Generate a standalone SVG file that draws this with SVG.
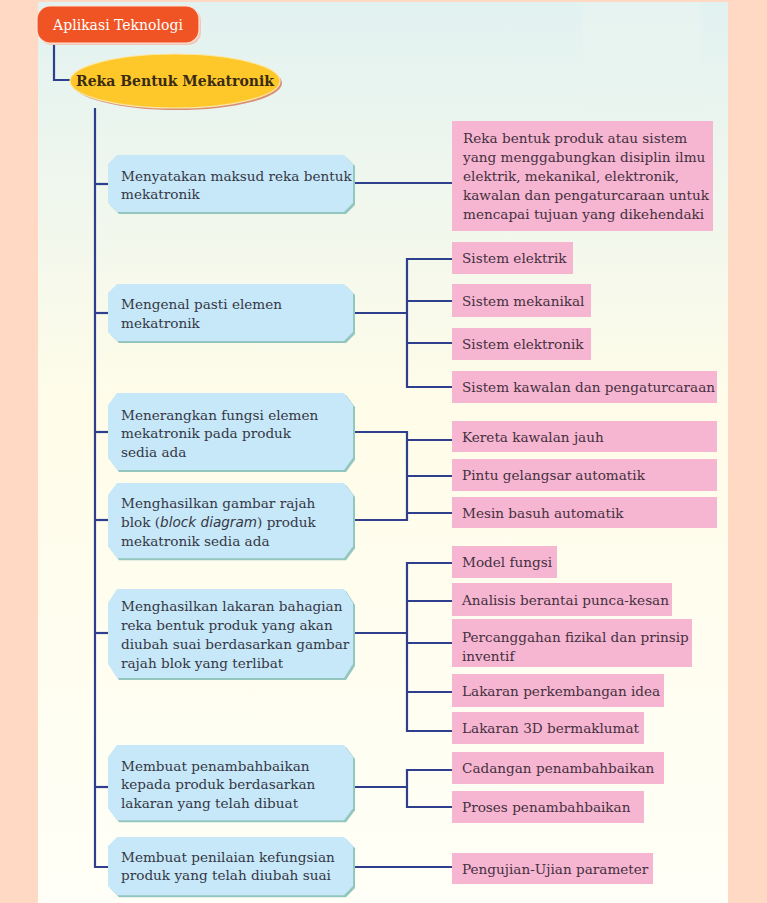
<svg xmlns="http://www.w3.org/2000/svg" width="767" height="903" viewBox="0 0 767 903">
<defs>
<linearGradient id="bg" x1="0" y1="0" x2="0" y2="1">
<stop offset="0" stop-color="#E2F2F1"/>
<stop offset="0.45" stop-color="#FFFCE9"/>
<stop offset="1" stop-color="#FFFFF7"/>
</linearGradient>
<polygon id="oct" points="9,0 236,0 245,9 245,48 236,57 9,57 0,48 0,9"/>
</defs>
<style>
.ln{fill:none;stroke:#2E3F8E;stroke-width:2.2}
.bt{font-family:"DejaVu Serif","Liberation Serif",serif;font-size:13.6px;fill:#353745}
.pt{font-family:"DejaVu Serif","Liberation Serif",serif;font-size:13.6px;fill:#45303E}
.hd{font-family:"DejaVu Serif","Liberation Serif",serif;font-size:14px}
.pk{fill:#F6B6D2}
.bx{fill:#C7E8F8}
.sh{fill:#93C6BF}
</style>
<rect x="0" y="0" width="767" height="903" fill="#FFD9C4"/>
<rect x="38" y="2" width="690" height="901" fill="url(#bg)"/>
<rect x="583" y="2" width="117" height="108" fill="#E8F3EF" opacity="0.7"/>

<g id="connectors">
<polyline class="ln" points="54,43 54,80 72,80"/>
<polyline class="ln" points="95,108 95,867 110,867"/>
<line class="ln" x1="95" y1="184" x2="110" y2="184"/>
<line class="ln" x1="95" y1="313" x2="110" y2="313"/>
<line class="ln" x1="95" y1="432" x2="110" y2="432"/>
<line class="ln" x1="95" y1="520" x2="110" y2="520"/>
<line class="ln" x1="95" y1="633" x2="110" y2="633"/>
<line class="ln" x1="95" y1="787" x2="110" y2="787"/>
<line class="ln" x1="353" y1="183" x2="452" y2="183"/>
<line class="ln" x1="353" y1="313" x2="407" y2="313"/>
<polyline class="ln" points="452,259 407,259 407,387 452,387"/>
<line class="ln" x1="407" y1="301" x2="452" y2="301"/>
<line class="ln" x1="407" y1="343" x2="452" y2="343"/>
<polyline class="ln" points="353,432 407,432 407,520 353,520"/>
<line class="ln" x1="407" y1="440" x2="452" y2="440"/>
<line class="ln" x1="407" y1="476" x2="452" y2="476"/>
<line class="ln" x1="407" y1="513" x2="452" y2="513"/>
<line class="ln" x1="353" y1="633" x2="407" y2="633"/>
<polyline class="ln" points="452,563 407,563 407,731 452,731"/>
<line class="ln" x1="407" y1="601" x2="452" y2="601"/>
<line class="ln" x1="407" y1="643" x2="452" y2="643"/>
<line class="ln" x1="407" y1="692" x2="452" y2="692"/>
<line class="ln" x1="353" y1="787" x2="407" y2="787"/>
<polyline class="ln" points="452,770 407,770 407,807 452,807"/>
<line class="ln" x1="353" y1="867" x2="452" y2="867"/>
</g>

<g id="n-aplikasi">
<rect x="39" y="8" width="162" height="37" rx="13" fill="#F2C9B8"/>
<rect x="37" y="6" width="162" height="37" rx="13" fill="#F05424" stroke="#FBE3D6" stroke-width="1.2"/>
<text class="hd" x="118" y="30" text-anchor="middle" fill="#FFFFFF">Aplikasi Teknologi</text>
</g>
<g id="n-reka">
<ellipse cx="177" cy="83" rx="105" ry="27" fill="#D98F74"/>
<ellipse cx="175" cy="81" rx="105" ry="27" fill="#FFC82A" stroke="#FBE7A8" stroke-width="1.2"/>
<text class="hd" x="175" y="86" text-anchor="middle" font-weight="bold" fill="#3A2C12">Reka Bentuk Mekatronik</text>
</g>

<g id="b1"><use href="#oct" class="sh" transform="translate(110,157)"/><use href="#oct" class="bx" transform="translate(108,155)"/>
<text class="bt" x="121" y="181">Menyatakan maksud reka bentuk</text><text class="bt" x="121" y="199">mekatronik</text></g>
<g id="b2"><use href="#oct" class="sh" transform="translate(110,286)"/><use href="#oct" class="bx" transform="translate(108,284)"/>
<text class="bt" x="121" y="309">Mengenal pasti elemen</text><text class="bt" x="121" y="328">mekatronik</text></g>
<g id="b3"><use href="#oct" class="sh" transform="translate(110,395) scale(1,1.35)"/><use href="#oct" class="bx" transform="translate(108,393) scale(1,1.35)"/>
<text class="bt" x="121" y="420">Menerangkan fungsi elemen</text><text class="bt" x="121" y="438">mekatronik pada produk</text><text class="bt" x="121" y="457">sedia ada</text></g>
<g id="b4"><use href="#oct" class="sh" transform="translate(110,485) scale(1,1.32)"/><use href="#oct" class="bx" transform="translate(108,483) scale(1,1.32)"/>
<text class="bt" x="121" y="508">Menghasilkan gambar rajah</text><text class="bt" x="121" y="527">blok (<tspan font-style="italic" font-family="DejaVu Sans,sans-serif">block diagram</tspan>) produk</text><text class="bt" x="121" y="546">mekatronik sedia ada</text></g>
<g id="b5"><use href="#oct" class="sh" transform="translate(110,591) scale(1,1.56)"/><use href="#oct" class="bx" transform="translate(108,589) scale(1,1.56)"/>
<text class="bt" x="121" y="611">Menghasilkan lakaran bahagian</text><text class="bt" x="121" y="630">reka bentuk produk yang akan</text><text class="bt" x="121" y="649">diubah suai berdasarkan gambar</text><text class="bt" x="121" y="668">rajah blok yang terlibat</text></g>
<g id="b6"><use href="#oct" class="sh" transform="translate(110,747) scale(1,1.32)"/><use href="#oct" class="bx" transform="translate(108,745) scale(1,1.32)"/>
<text class="bt" x="121" y="771">Membuat penambahbaikan</text><text class="bt" x="121" y="789">kepada produk berdasarkan</text><text class="bt" x="121" y="808">lakaran yang telah dibuat</text></g>
<g id="b7"><use href="#oct" class="sh" transform="translate(110,839) scale(1,1.02)"/><use href="#oct" class="bx" transform="translate(108,837) scale(1,1.02)"/>
<text class="bt" x="121" y="862">Membuat penilaian kefungsian</text><text class="bt" x="121" y="880">produk yang telah diubah suai</text></g>

<g id="p-def"><rect class="pk" x="452" y="121" width="261" height="110"/>
<text class="pt" x="463" y="143">Reka bentuk produk atau sistem</text><text class="pt" x="463" y="162">yang menggabungkan disiplin ilmu</text><text class="pt" x="463" y="181">elektrik, mekanikal, elektronik,</text><text class="pt" x="463" y="200">kawalan dan pengaturcaraan untuk</text><text class="pt" x="463" y="219">mencapai tujuan yang dikehendaki</text></g>
<g id="p1"><rect class="pk" x="452" y="242" width="121" height="32"/><text class="pt" x="462" y="263">Sistem elektrik</text></g>
<g id="p2"><rect class="pk" x="452" y="284" width="139" height="33"/><text class="pt" x="462" y="306">Sistem mekanikal</text></g>
<g id="p3"><rect class="pk" x="452" y="328" width="139" height="32"/><text class="pt" x="462" y="349">Sistem elektronik</text></g>
<g id="p4"><rect class="pk" x="452" y="371" width="265" height="32"/><text class="pt" x="462" y="392">Sistem kawalan dan pengaturcaraan</text></g>
<g id="p5"><rect class="pk" x="452" y="421" width="265" height="31"/><text class="pt" x="462" y="442">Kereta kawalan jauh</text></g>
<g id="p6"><rect class="pk" x="452" y="459" width="265" height="32"/><text class="pt" x="462" y="480">Pintu gelangsar automatik</text></g>
<g id="p7"><rect class="pk" x="452" y="497" width="265" height="31"/><text class="pt" x="462" y="518">Mesin basuh automatik</text></g>
<g id="p8"><rect class="pk" x="452" y="546" width="105" height="32"/><text class="pt" x="462" y="567">Model fungsi</text></g>
<g id="p9"><rect class="pk" x="452" y="583" width="220" height="33"/><text class="pt" x="462" y="605">Analisis berantai punca-kesan</text></g>
<g id="p10"><rect class="pk" x="452" y="619" width="240" height="48"/><text class="pt" x="462" y="642">Percanggahan fizikal dan prinsip</text><text class="pt" x="462" y="661">inventif</text></g>
<g id="p11"><rect class="pk" x="452" y="674" width="212" height="33"/><text class="pt" x="462" y="696">Lakaran perkembangan idea</text></g>
<g id="p12"><rect class="pk" x="452" y="712" width="192" height="32"/><text class="pt" x="462" y="733">Lakaran 3D bermaklumat</text></g>
<g id="p13"><rect class="pk" x="452" y="752" width="212" height="32"/><text class="pt" x="462" y="773">Cadangan penambahbaikan</text></g>
<g id="p14"><rect class="pk" x="452" y="791" width="192" height="32"/><text class="pt" x="462" y="812">Proses penambahbaikan</text></g>
<g id="p15"><rect class="pk" x="452" y="853" width="201" height="31"/><text class="pt" x="462" y="874">Pengujian-Ujian parameter</text></g>
</svg>
